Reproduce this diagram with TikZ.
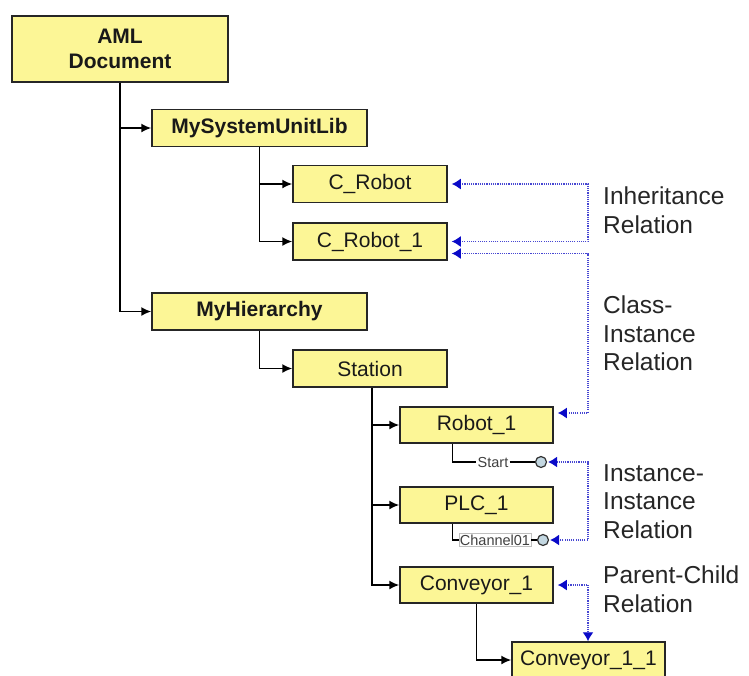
\documentclass[tikz,border=0pt]{standalone}
\usepackage{fontspec}
\setmainfont{Liberation Sans}
\usetikzlibrary{arrows.meta}
\definecolor{boxfill}{RGB}{252,246,150}
\definecolor{relblue}{RGB}{70,70,210}
\definecolor{tipblue}{RGB}{10,10,200}
\definecolor{portfill}{RGB}{195,215,225}
\tikzset{
  box/.style={draw=black!85, line width=1.5pt, fill=boxfill, minimum width=154pt, minimum height=37pt, inner sep=0pt, font=\fontsize{21}{25}\selectfont, align=center, text=black!90},
  bigbox/.style={box, minimum width=215pt, font=\fontsize{21}{25}\selectfont\bfseries},
  tree/.style={draw=black, line width=1.6pt, -{Latex[length=10pt,width=9pt]}},
  portline/.style={draw=black, line width=1.2pt},
  port/.style={circle, draw=black!80, line width=1.2pt, fill=portfill, minimum size=11pt, inner sep=0pt},
  portlabel/.style={inner sep=1pt, font=\fontsize{14.5}{16}\selectfont, text=black!75},
  rel/.style={draw=relblue, line width=1.4pt, dash pattern=on 1.1pt off 1.1pt, {Latex[length=9pt,width=11pt,color=tipblue]}-{Latex[length=9pt,width=11pt,color=tipblue]}},
  rellabel/.style={anchor=north west, inner sep=0pt, align=left, font=\fontsize{24.5}{28.5}\selectfont, text=black!85}
}
\begin{document}
\begin{tikzpicture}[x=1pt,y=-1pt]
\useasboundingbox (0,0) rectangle (749,675);
\clip (0,0) rectangle (749,675);
\fill[white] (0,0) rectangle (749,675);
% boxes
\node[bigbox, minimum width=216pt, minimum height=66pt] (aml) at (120,49) {AML\\Document};
\node[bigbox] (msul) at (259.5,128) {MySystemUnitLib};
\node[box] (crobot) at (370,184) {C\_Robot};
\node[box] (crobot1) at (370,241.5) {C\_Robot\_1};
\node[bigbox] (myh) at (259.5,311.5) {MyHierarchy};
\node[box] (station) at (370,368.5) {Station};
\node[box, minimum width=153pt, minimum height=36pt] (robot1) at (476.5,425) {Robot\_1};
\node[box, minimum width=153pt, minimum height=36pt] (plc1) at (476.5,505) {PLC\_1};
\node[box, minimum width=153pt, minimum height=36pt] (conv1) at (476.5,585) {Conveyor\_1};
\node[box, minimum width=153pt, minimum height=36pt] (conv11) at (588.5,660) {Conveyor\_1\_1};
% tree connectors
\draw[tree] (aml.south) |- (msul.west);
\draw[tree] (aml.south) |- (myh.west);
\draw[tree] (msul.south) |- (crobot.west);
\draw[tree] (msul.south) |- (crobot1.west);
\draw[tree] (myh.south) |- (station.west);
\draw[tree] ([xshift=2pt]station.south) |- (robot1.west);
\draw[tree] ([xshift=2pt]station.south) |- (plc1.west);
\draw[tree] ([xshift=2pt]station.south) |- (conv1.west);
\draw[tree] (conv1.south) |- (conv11.west);
% ports
\coordinate (rp) at ([xshift=53pt]robot1.south west);
\coordinate (pp) at ([xshift=53pt]plc1.south west);
\node[portlabel] (start) at (493,462) {Start};
\node[port] (startc) at (541,462) {};
\node[portlabel, draw=black!25, line width=0.6pt, fill=white] (chan) at (495,540) {Channel01};
\node[port] (chanc) at (543,540) {};
\draw[portline] (rp) |- (start.west);
\draw[portline] (start.east) -- (startc.west);
\draw[portline] (pp) |- (chan.west);
\draw[portline] (chan.east) -- (chanc.west);
% relations
\coordinate (col) at (588,0);
\draw[rel] ([xshift=4pt]crobot.east) -- (crobot.east -| col) -- (crobot1.east -| col) -- ([xshift=4pt]crobot1.east);
\draw[rel] ([xshift=4pt,yshift=-12pt]crobot1.east) -- ([yshift=-12pt]crobot1.east -| col) -- ([yshift=12pt]robot1.east -| col) -- ([xshift=4pt,yshift=12pt]robot1.east);
\draw[rel] ([xshift=1pt]startc.east) -- (startc.east -| col) -- (chanc.east -| col) -- ([xshift=1pt]chanc.east);
\draw[rel] ([xshift=4pt]conv1.east) -- (conv1.east -| col) -- (conv11.north -| col);
% labels
\node[rellabel] (l1) at (603,187) {Inheritance\\Relation};
\node[rellabel] (l2) at (603,296) {Class-\\Instance\\Relation};
\node[rellabel] (l3) at (603,464) {Instance-\\Instance\\Relation};
\node[rellabel] (l4) at (603,566) {Parent-Child\\Relation};
\end{tikzpicture}
\end{document}
